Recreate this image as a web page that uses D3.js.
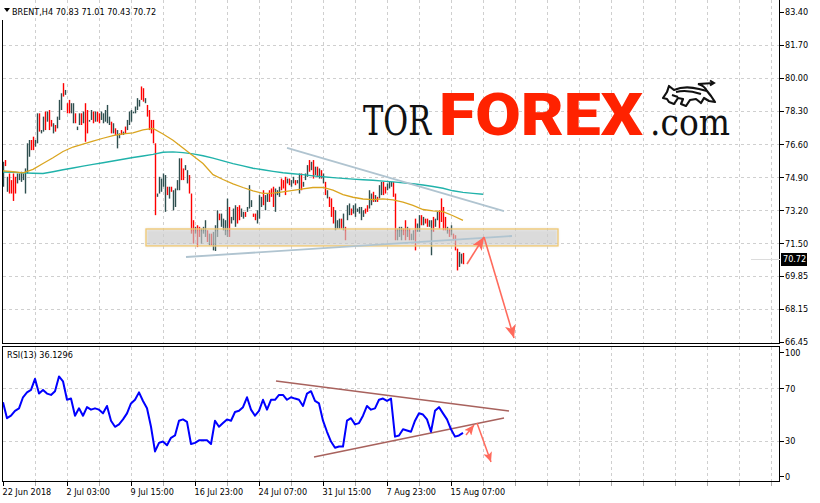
<!DOCTYPE html>
<html><head><meta charset="utf-8">
<script src="https://cdn.jsdelivr.net/npm/d3@7"></script>
<style>
html,body{margin:0;padding:0;background:#fff;}
svg{display:block;}
text.ui{font-family:"DejaVu Sans Condensed","DejaVu Sans",sans-serif;font-stretch:condensed;font-size:9px;fill:#000;}
</style></head><body>
<svg id="chart" width="820" height="503"></svg>
<script>
// ---------- DATA ----------
const symbolLabel = "BRENT,H4";
const lastOHLC = [70.83, 71.01, 70.43, 70.72];
const rsiLabel = "RSI(13) 36.1296";

const opens = [
74.70,75.72,74.30,74.90,74.60,74.90,74.80,74.65,74.80,74.75,
74.80,74.30,75.20,76.10,76.70,76.80,76.50,76.80,78.05,77.18,
77.30,78.10,77.80,78.20,77.80,77.20,77.55,77.45,77.90,78.45,
79.65,79.15,78.65,78.80,78.25,77.75,78.10,77.35,77.65,78.10,
77.70,78.60,78.25,77.76,77.90,78.20,77.80,78.20,78.10,77.90,
77.75,77.80,77.80,77.65,77.70,77.20,77.38,76.50,76.95,77.28,
77.10,77.45,77.35,77.65,77.80,78.19,78.20,78.40,78.55,79.50,
79.40,78.72,78.55,78.30,77.80,77.75,76.55,73.90,74.10,74.20,
74.45,73.30,74.35,73.85,74.38,73.30,73.45,74.25,74.30,75.80,
75.30,75.28,74.65,74.95,74.00,72.60,72.02,72.35,72.30,71.55,
72.05,71.90,72.10,71.45,71.95,71.20,71.20,71.90,73.00,72.40,
72.20,71.95,71.90,73.30,72.55,72.72,72.40,73.30,73.40,72.90,
72.80,73.10,73.13,73.35,73.40,73.00,73.00,72.55,72.85,73.40,
74.15,73.25,73.65,74.15,74.25,74.30,73.20,74.00,73.92,74.78,
74.70,74.85,74.60,74.80,74.45,74.60,74.72,74.60,74.15,75.00,
74.43,74.78,74.95,75.70,75.30,75.70,75.05,75.40,74.88,75.20,
74.62,74.60,73.85,73.85,73.75,73.30,72.25,72.30,72.30,72.70,
72.25,72.30,72.75,73.00,73.25,73.05,72.90,73.13,73.05,72.75,
72.90,73.25,73.40,73.35,73.50,74.10,73.65,73.85,73.85,74.00,
74.60,74.38,74.25,74.35,74.43,74.60,74.00,71.70,71.85,71.70,
72.22,72.60,71.85,72.20,71.68,71.70,72.60,72.12,72.15,72.90,
72.45,72.75,72.72,72.38,71.00,72.80,72.38,72.72,73.10,73.70,
73.30,72.80,72.02,72.20,71.95,71.98,71.88,71.15,70.35,70.50,
70.83];
const highs = [
75.69,75.78,74.92,75.09,74.75,75.09,74.92,75.09,75.09,75.18,
75.09,75.35,76.64,76.81,76.81,76.98,76.81,78.18,78.18,77.32,
78.01,78.27,78.27,78.35,77.84,77.67,77.58,78.01,78.87,79.21,
79.73,79.38,78.70,78.87,78.70,78.70,78.18,77.50,78.18,78.18,
78.27,78.70,78.35,77.84,78.35,78.27,78.27,78.27,78.18,78.27,
78.18,78.35,78.61,78.01,77.75,77.67,77.41,77.32,77.15,77.32,
77.24,77.50,77.84,78.27,78.35,78.27,78.53,78.96,78.87,79.56,
79.47,78.96,78.61,78.35,77.84,77.84,76.64,74.06,74.92,74.83,
75.09,75.01,74.41,74.41,74.41,74.23,74.32,74.75,75.87,75.87,
75.35,75.52,75.26,75.01,74.06,72.69,72.35,72.43,72.35,72.26,
72.35,72.69,72.17,72.00,72.00,72.09,72.43,73.20,73.03,73.03,
72.77,72.69,73.80,73.37,72.86,73.29,73.46,73.37,73.46,73.29,
73.12,73.12,73.37,74.49,73.72,73.03,73.03,73.20,73.98,73.89,
74.23,73.98,74.06,74.23,74.32,74.41,74.32,74.23,74.41,74.83,
74.75,74.92,74.83,74.83,74.75,74.92,74.75,74.75,75.09,75.09,
74.66,75.09,75.52,75.78,75.69,75.78,75.44,75.44,75.35,75.26,
75.09,74.66,74.23,73.89,73.81,73.37,73.20,72.69,72.77,72.77,
73.03,72.35,73.46,73.55,73.29,73.46,73.55,73.29,73.37,73.37,
73.20,73.29,73.46,74.23,74.06,74.15,73.98,73.89,74.49,74.66,
74.66,74.41,74.58,74.66,74.66,74.66,74.06,72.26,72.35,72.35,
72.26,72.69,72.35,72.26,72.00,72.17,72.77,72.52,72.95,72.95,
72.86,72.77,72.77,72.69,72.69,72.86,72.77,73.12,73.20,73.81,
73.37,72.86,72.35,72.26,72.43,72.00,71.92,71.23,71.06,70.97,
71.01];
const lows = [
74.41,75.47,74.15,74.06,74.06,73.68,74.06,74.58,74.75,74.66,
74.75,74.06,75.09,75.95,76.29,76.29,76.47,76.64,77.24,77.15,
77.24,77.32,77.75,77.32,77.50,77.15,77.24,77.41,77.84,78.35,
79.04,79.13,78.18,78.18,78.18,77.67,77.67,77.32,77.58,77.58,
77.67,76.72,77.15,77.75,77.84,77.67,77.75,77.75,77.67,77.84,
77.67,77.75,77.67,77.58,77.15,77.15,77.07,76.38,76.90,77.07,
77.07,77.15,77.32,77.58,77.75,78.18,78.18,78.35,78.53,78.87,
78.78,78.70,78.01,77.32,77.15,76.64,72.95,73.89,74.06,74.15,
74.41,73.12,73.98,73.80,74.15,73.20,73.37,74.23,74.23,74.75,
74.75,75.26,74.58,74.06,72.00,71.49,72.00,71.31,71.83,71.49,
72.00,71.83,71.57,71.40,71.40,71.14,71.11,71.83,72.69,72.35,
72.17,71.92,71.83,71.83,72.52,72.69,72.35,72.52,72.69,72.86,
72.77,72.86,73.12,73.29,73.37,72.86,72.69,72.52,72.77,73.37,
73.46,73.20,73.63,73.63,73.89,73.37,73.12,73.98,73.89,74.23,
74.32,73.98,74.58,74.49,74.41,74.58,74.49,74.58,74.06,74.23,
74.41,74.75,74.92,75.18,75.26,74.83,75.01,74.92,74.83,74.83,
74.58,73.98,73.81,73.37,72.86,72.52,72.17,72.26,72.26,72.26,
72.17,71.66,72.69,72.95,72.95,73.03,72.86,73.12,73.03,72.69,
72.86,73.03,73.12,73.29,73.46,73.63,73.63,73.63,73.81,73.98,
73.98,74.06,74.23,74.32,74.41,73.89,71.66,71.66,71.83,71.66,
71.92,71.66,71.83,71.66,71.66,71.66,71.14,72.09,72.09,72.43,
72.43,72.52,72.35,72.35,70.89,72.09,72.35,72.69,72.26,72.60,
72.17,72.17,72.00,71.83,71.92,71.66,71.14,70.11,70.29,70.46,
70.43];
const closes = [
75.50,75.52,74.80,74.30,74.20,73.90,74.20,75.00,75.02,75.10,
75.00,75.20,76.50,76.70,76.40,76.40,76.75,78.00,77.35,77.30,
77.90,77.45,78.20,77.45,77.55,77.60,77.30,77.95,78.80,79.15,
79.10,79.35,78.25,78.25,78.65,78.60,77.75,77.48,78.10,77.65,
78.20,76.90,77.30,77.82,78.30,77.75,78.20,77.80,77.75,78.20,
78.10,78.30,78.50,77.95,77.25,77.60,77.12,77.25,77.10,77.10,
77.20,77.20,77.80,78.20,78.30,78.25,78.50,78.90,78.85,78.95,
78.85,78.93,78.10,77.40,77.20,76.75,73.10,74.05,74.85,74.75,
75.00,74.90,74.05,74.35,74.18,74.15,74.25,74.70,75.75,74.85,
74.80,75.50,75.20,74.15,72.10,71.60,72.30,71.40,71.88,72.20,
72.30,72.60,71.65,71.95,71.45,72.00,72.35,73.10,72.72,72.95,
72.70,72.60,73.70,71.90,72.80,73.20,73.40,72.60,72.75,73.25,
73.08,72.90,73.35,74.40,73.70,72.88,72.72,73.15,73.90,73.85,
73.55,73.90,74.00,73.70,73.92,73.45,74.25,74.20,74.35,74.28,
74.35,74.05,74.80,74.52,74.70,74.88,74.52,74.72,75.00,74.30,
74.62,75.05,75.45,75.25,75.65,74.90,75.40,74.95,75.30,74.88,
75.05,74.05,74.20,73.42,72.95,72.60,73.10,72.65,72.70,72.30,
72.95,71.75,73.40,73.50,73.00,73.40,73.50,73.27,73.33,73.30,
73.15,73.05,73.15,74.15,74.00,73.70,73.95,73.66,74.45,74.60,
74.05,74.10,74.55,74.62,74.63,73.95,71.80,72.20,72.30,72.30,
71.95,71.75,72.30,71.70,71.95,72.10,71.30,72.48,72.90,72.48,
72.82,72.55,72.40,72.65,72.60,72.15,72.72,73.08,72.35,72.70,
72.25,72.20,72.30,71.88,72.38,71.70,71.20,70.20,71.00,70.85,
70.72];

// moving averages, one value every 5 bars
const maSlow = [ // orange
75.22,75.18,75.12,75.30,75.60,75.90,76.22,76.45,76.60,76.75,
76.90,77.04,77.12,77.18,77.33,77.41,77.12,76.80,76.40,76.00,
75.60,75.03,74.78,74.56,74.37,74.20,74.07,74.08,74.15,74.22,
74.30,74.37,74.38,74.23,74.00,73.87,73.78,73.75,73.79,73.74,
73.62,73.45,73.24,73.17,73.13,72.92,72.68];
const maLong = [ // teal (shifted)
75.17,75.15,75.12,75.10,75.09,75.18,75.28,75.37,75.47,75.56,
75.64,75.73,75.82,75.91,75.99,76.07,76.18,76.20,76.16,76.10,
76.00,75.88,75.74,75.60,75.48,75.36,75.28,75.20,75.13,75.08,
75.03,74.97,74.92,74.88,74.84,74.80,74.77,74.74,74.70,74.66,
74.61,74.56,74.50,74.42,74.33,74.20,74.12,74.07,74.02];
const maStep = 5;

// RSI(13), one value every 2 bars
const rsiValues = [
59.4,47.3,49.2,52.9,54.8,63.2,66.9,68.8,77.2,66.0,
68.8,66.0,65.0,67.8,79.0,75.3,61.3,62.2,49.2,54.8,
49.2,55.7,53.8,54.8,53.8,51.0,56.6,45.4,40.8,42.6,
46.4,51.0,58.5,61.3,66.9,60.4,54.8,40.8,22.1,28.6,
29.6,26.8,32.4,34.2,45.4,46.4,44.5,27.7,28.6,30.5,
30.5,30.5,27.7,45.4,40.8,43.6,46.4,45.4,52.0,52.9,
55.7,63.2,53.8,49.2,52.9,61.3,53.8,61.3,61.3,65.0,
65.0,61.3,63.2,62.2,61.3,56.6,66.0,67.8,60.4,58.5,
45.4,37.0,29.6,24.9,25.8,25.8,45.4,47.3,42.6,43.6,
49.2,56.6,53.8,54.8,61.3,62.2,60.4,62.2,33.3,34.2,
38.9,38.0,37.0,45.4,51.0,50.1,46.4,37.0,52.9,55.7,
51.0,46.4,38.9,33.3,34.2,36.13];
const rsiStep = 2;

const priceTicks = [83.40, 81.70, 80.00, 78.30, 76.60, 74.90, 73.20, 71.50, 69.85, 68.15, 66.45];
const rsiTicks = [100, 70, 30, 0];
const rsiGrid = [70, 30];
const dateLabels = ["22 Jun 2018", "2 Jul 03:00", "9 Jul 15:00", "16 Jul 23:00", "24 Jul 07:00", "31 Jul 15:00", "7 Aug 23:00", "15 Aug 07:00"];
const dateLabelBars = [0, 32, 64, 96, 128, 160, 192, 224];
const gridEveryBars = 16;

// drawn objects (bar index, price / rsi value)
const zone = {from: 71.5, to: 277.5, top: 72.24, bottom: 71.37};
const priceTrendLines = [
  {b1: 142, v1: 76.40, b2: 250.5, v2: 73.16},
  {b1: 91.5, v1: 70.80, b2: 254.5, v2: 71.88}];
const priceArrows = [
  {b1: 232, v1: 70.44, b2: 240.5, v2: 71.83},
  {b1: 240.5, v1: 71.83, b2: 255.5, v2: 66.64}];
const rsiTrendLines = [
  {b1: 136.5, v1: 75.5, b2: 253, v2: 52.8},
  {b1: 155.5, v1: 17.8, b2: 250.5, v2: 47.4}];
const rsiArrows = [
  {b1: 231.5, v1: 34.5, b2: 235.5, v2: 42.1},
  {b1: 237, v1: 43.6, b2: 244, v2: 14.0}];

// ---------- LAYOUT ----------
const L = 2.5, R = 779.5;
const topPanel = {top: 0, bottom: 343.5};
const rsiPanel = {top: 346.5, bottom: 481.5};
const nBars = closes.length;

const svg = d3.select("#chart");
const x = d3.scaleLinear().domain([0, nBars - 1]).range([3, 3 + 2 * (nBars - 1)]);
const y = d3.scaleLinear().domain([66.45, 83.40]).range([341.7, 11.7]);
const yr = d3.scaleLinear().domain([0, 100]).range([480.5, 348.8]);
const px = v => Math.round(v) + 0.5;

const defs = svg.append("defs");
defs.append("clipPath").attr("id", "clipTop").append("rect")
  .attr("x", 3).attr("y", 0).attr("width", R - 3).attr("height", topPanel.bottom);
defs.append("clipPath").attr("id", "clipRsi").append("rect")
  .attr("x", 3).attr("y", rsiPanel.top + 0.5).attr("width", R - 3).attr("height", rsiPanel.bottom - rsiPanel.top - 1);
const blur = defs.append("filter").attr("id", "soft").attr("x", "-5%").attr("y", "-50%").attr("width", "110%").attr("height", "200%");
blur.append("feGaussianBlur").attr("stdDeviation", 1.8);
function marker(id, w, h) {
  defs.append("marker").attr("id", id).attr("viewBox", `0 0 ${w} ${h}`)
    .attr("refX", w).attr("refY", h / 2).attr("markerWidth", w).attr("markerHeight", h)
    .attr("markerUnits", "userSpaceOnUse").attr("orient", "auto")
    .append("path").attr("d", `M0,0 L${w},${h/2} L0,${h} L${w*0.25},${h/2} Z`).attr("fill", "#ff6a5c");
}
marker("arrBig", 13, 11);
marker("arrSmall", 10, 9);

// ---------- GRID ----------
const gridColor = "#cfcfcf";
const vBars = d3.range(gridEveryBars, 400, gridEveryBars).filter(b => x(b) < R - 2);
const grid = svg.append("g").attr("stroke", gridColor).attr("stroke-dasharray", "3,3").attr("shape-rendering", "crispEdges");
grid.selectAll("line.vt").data(vBars).join("line").attr("class", "vt")
  .attr("x1", b => px(x(b))).attr("x2", b => px(x(b))).attr("y1", topPanel.top).attr("y2", topPanel.bottom);
grid.selectAll("line.vr").data(vBars).join("line").attr("class", "vr")
  .attr("x1", b => px(x(b))).attr("x2", b => px(x(b))).attr("y1", rsiPanel.top).attr("y2", rsiPanel.bottom);
grid.selectAll("line.h").data(priceTicks.slice(1, -1)).join("line").attr("class", "h")
  .attr("x1", 3).attr("x2", R).attr("y1", v => px(y(v))).attr("y2", v => px(y(v)));
grid.selectAll("line.hr").data(rsiGrid).join("line").attr("class", "hr")
  .attr("x1", 3).attr("x2", R).attr("y1", v => px(yr(v))).attr("y2", v => px(yr(v)));

// ---------- LOGO ----------
const logo = svg.append("g");
logo.append("text").attr("transform", "translate(363,135) scale(1,1.25)").attr("font-family", "DejaVu Serif")
  .attr("font-size", 33).attr("textLength", 68).attr("lengthAdjust", "spacingAndGlyphs")
  .attr("fill", "#111").text("TOR");
logo.append("text").attr("x", 439).attr("y", 135).attr("font-family", "Roboto, 'Open Sans', sans-serif")
  .attr("font-weight", 900).attr("font-size", 60).attr("textLength", 204).attr("lengthAdjust", "spacingAndGlyphs")
  .attr("fill", "#ff2200").text("FOREX");
logo.append("text").attr("x", 650).attr("y", 135).attr("font-family", "DejaVu Serif")
  .attr("font-size", 38).attr("textLength", 80).attr("lengthAdjust", "spacingAndGlyphs")
  .attr("fill", "#111").text(".com");
// bull icon (sketch style)
logo.append("path")
  .attr("d", "M663,98 L667,92 L669,86 L674,90 C681,87 691,87 699,89 L707,91 L711,96 L715,102 L709,101 L704,98 L701,103 L696,99 L690,100 L686,106 L681,104 L683,99 L678,98 L674,104 L669,102 L667,99 Z")
  .attr("fill", "#fff").attr("stroke", "#111").attr("stroke-width", 2.2).attr("stroke-linejoin", "round");
logo.append("path").attr("d", "M707,91 C705,87 702,85 698,84 L714,83 M710,80.5 L714,83 L710,85.5 M676,92 C684,90 692,91 701,94 M672,95 L678,97")
  .attr("fill", "none").attr("stroke", "#111").attr("stroke-width", 2);

// ---------- CANDLES ----------
const cg = svg.append("g").attr("clip-path", "url(#clipTop)");
cg.selectAll("rect").data(d3.range(nBars)).join("rect")
  .attr("x", i => x(i) - 0.2)
  .attr("width", 1.4)
  .attr("y", i => y(highs[i]))
  .attr("height", i => Math.max(y(lows[i]) - y(highs[i]), 1.5))
  .style("fill", i => closes[i] < opens[i] ? "#ff0000" : "#2f4f4f");

// ---------- MOVING AVERAGES ----------
const maLine = d3.line().x(d => x(d.b)).y(d => y(d.v));
svg.append("path").attr("clip-path", "url(#clipTop)")
  .attr("d", maLine(maLong.map((v, k) => ({b: k * maStep, v}))))
  .attr("fill", "none").attr("stroke", "#20b2aa").attr("stroke-width", 1.4);
svg.append("path").attr("clip-path", "url(#clipTop)")
  .attr("d", maLine(maSlow.map((v, k) => ({b: k * maStep, v}))))
  .attr("fill", "none").attr("stroke", "#daa520").attr("stroke-width", 1.3);

// ---------- ZONE ----------
const zx1 = x(zone.from), zx2 = x(zone.to), zy1 = y(zone.top), zy2 = y(zone.bottom);
svg.append("rect").attr("x", zx1).attr("y", zy1).attr("width", zx2 - zx1).attr("height", zy2 - zy1)
  .attr("fill", "#c8c8c8").attr("fill-opacity", 0.65).attr("filter", "url(#soft)");
svg.append("rect").attr("x", zx1).attr("y", zy1).attr("width", zx2 - zx1).attr("height", zy2 - zy1)
  .attr("fill", "none").attr("stroke", "#f0c870").attr("stroke-width", 1.3);

// ---------- TREND LINES & ARROWS ----------
svg.append("g").selectAll("line").data(priceTrendLines).join("line")
  .attr("x1", d => x(d.b1)).attr("y1", d => y(d.v1)).attr("x2", d => x(d.b2)).attr("y2", d => y(d.v2))
  .attr("stroke", "#b0c4d0").attr("stroke-width", 1.8);
svg.append("g").selectAll("line").data(priceArrows).join("line")
  .attr("x1", d => x(d.b1)).attr("y1", d => y(d.v1)).attr("x2", d => x(d.b2)).attr("y2", d => y(d.v2))
  .attr("stroke", "#ff6a5c").attr("stroke-width", 1.6).attr("marker-end", "url(#arrBig)");

// ---------- RSI ----------
const rsiG = svg.append("g").attr("clip-path", "url(#clipRsi)");
rsiG.selectAll("line").data(rsiTrendLines).join("line")
  .attr("x1", d => x(d.b1)).attr("y1", d => yr(d.v1)).attr("x2", d => x(d.b2)).attr("y2", d => yr(d.v2))
  .attr("stroke", "#a8625d").attr("stroke-width", 1.5);
rsiG.append("path")
  .attr("d", d3.line().x((v, k) => x(k * rsiStep)).y(v => yr(v))(rsiValues))
  .attr("fill", "none").attr("stroke", "#0000ff").attr("stroke-width", 2).attr("stroke-linejoin", "round");
rsiG.append("g").selectAll("line").data(rsiArrows).join("line")
  .attr("x1", d => x(d.b1)).attr("y1", d => yr(d.v1)).attr("x2", d => x(d.b2)).attr("y2", d => yr(d.v2))
  .attr("stroke", "#ff6a5c").attr("stroke-width", 1.5).attr("marker-end", "url(#arrSmall)");

// ---------- FRAMES ----------
const fr = svg.append("g").attr("stroke", "#000").attr("stroke-width", 1).attr("fill", "none").attr("shape-rendering", "crispEdges");
fr.append("path").attr("d", `M${L},20 V${topPanel.bottom} H${R} V0`);
fr.append("path").attr("d", `M${L},${rsiPanel.top} H${R} V${rsiPanel.bottom} H${L} Z`);

// ---------- AXES ----------
const ax = svg.append("g").attr("shape-rendering", "crispEdges");
ax.selectAll("line.pt").data(priceTicks).join("line").attr("class", "pt")
  .attr("x1", R).attr("x2", R + 4).attr("y1", v => px(y(v))).attr("y2", v => px(y(v))).attr("stroke", "#000");
svg.selectAll("text.pl").data(priceTicks).join("text").attr("class", "ui pl")
  .attr("x", 785).attr("y", v => y(v) + 3.5).text(v => v.toFixed(2));

const rClamp = v => Math.min(Math.max(yr(v), rsiPanel.top + 5.5), rsiPanel.bottom - 5.5);
ax.selectAll("line.rt").data(rsiTicks).join("line").attr("class", "rt")
  .attr("x1", R).attr("x2", R + 4).attr("y1", v => px(rClamp(v))).attr("y2", v => px(rClamp(v))).attr("stroke", "#000");
svg.selectAll("text.rl").data(rsiTicks).join("text").attr("class", "ui rl")
  .attr("x", 785).attr("y", v => rClamp(v) + 3.5).text(v => v);

const tickBars = d3.range(0, 400, gridEveryBars).filter(b => x(b) < R - 2);
ax.selectAll("line.xt").data(tickBars).join("line").attr("class", "xt")
  .attr("x1", b => px(x(b))).attr("x2", b => px(x(b))).attr("y1", rsiPanel.bottom).attr("y2", rsiPanel.bottom + 4)
  .attr("stroke", b => dateLabelBars.includes(b) ? "#000" : "#aaa");
svg.selectAll("text.xl").data(dateLabels).join("text").attr("class", "ui xl")
  .attr("x", (d, k) => x(dateLabelBars[k]) - 0.5).attr("y", 495).text(d => d);

// current price box
const cy = y(lastOHLC[3]);
svg.append("line").attr("x1", 751).attr("x2", R).attr("y1", px(cy)).attr("y2", px(cy)).attr("stroke", "#dcdcdc").attr("shape-rendering", "crispEdges");
svg.append("rect").attr("x", 781).attr("y", Math.round(cy) - 6).attr("width", 26).attr("height", 13).attr("fill", "#000");
svg.append("text").attr("class", "ui").attr("x", 783).attr("y", cy + 3.5).style("fill", "#fff").text(lastOHLC[3].toFixed(2));

// headers
svg.append("path").attr("d", "M4,8 H10 L7,12 Z").attr("fill", "#000");
svg.append("text").attr("class", "ui").attr("x", 12).attr("y", 14.5)
  .text(symbolLabel + "  " + lastOHLC.map(v => v.toFixed(2)).join(" "));
svg.append("text").attr("class", "ui").attr("x", 7).attr("y", 358).text(rsiLabel);
</script>
</body></html>
